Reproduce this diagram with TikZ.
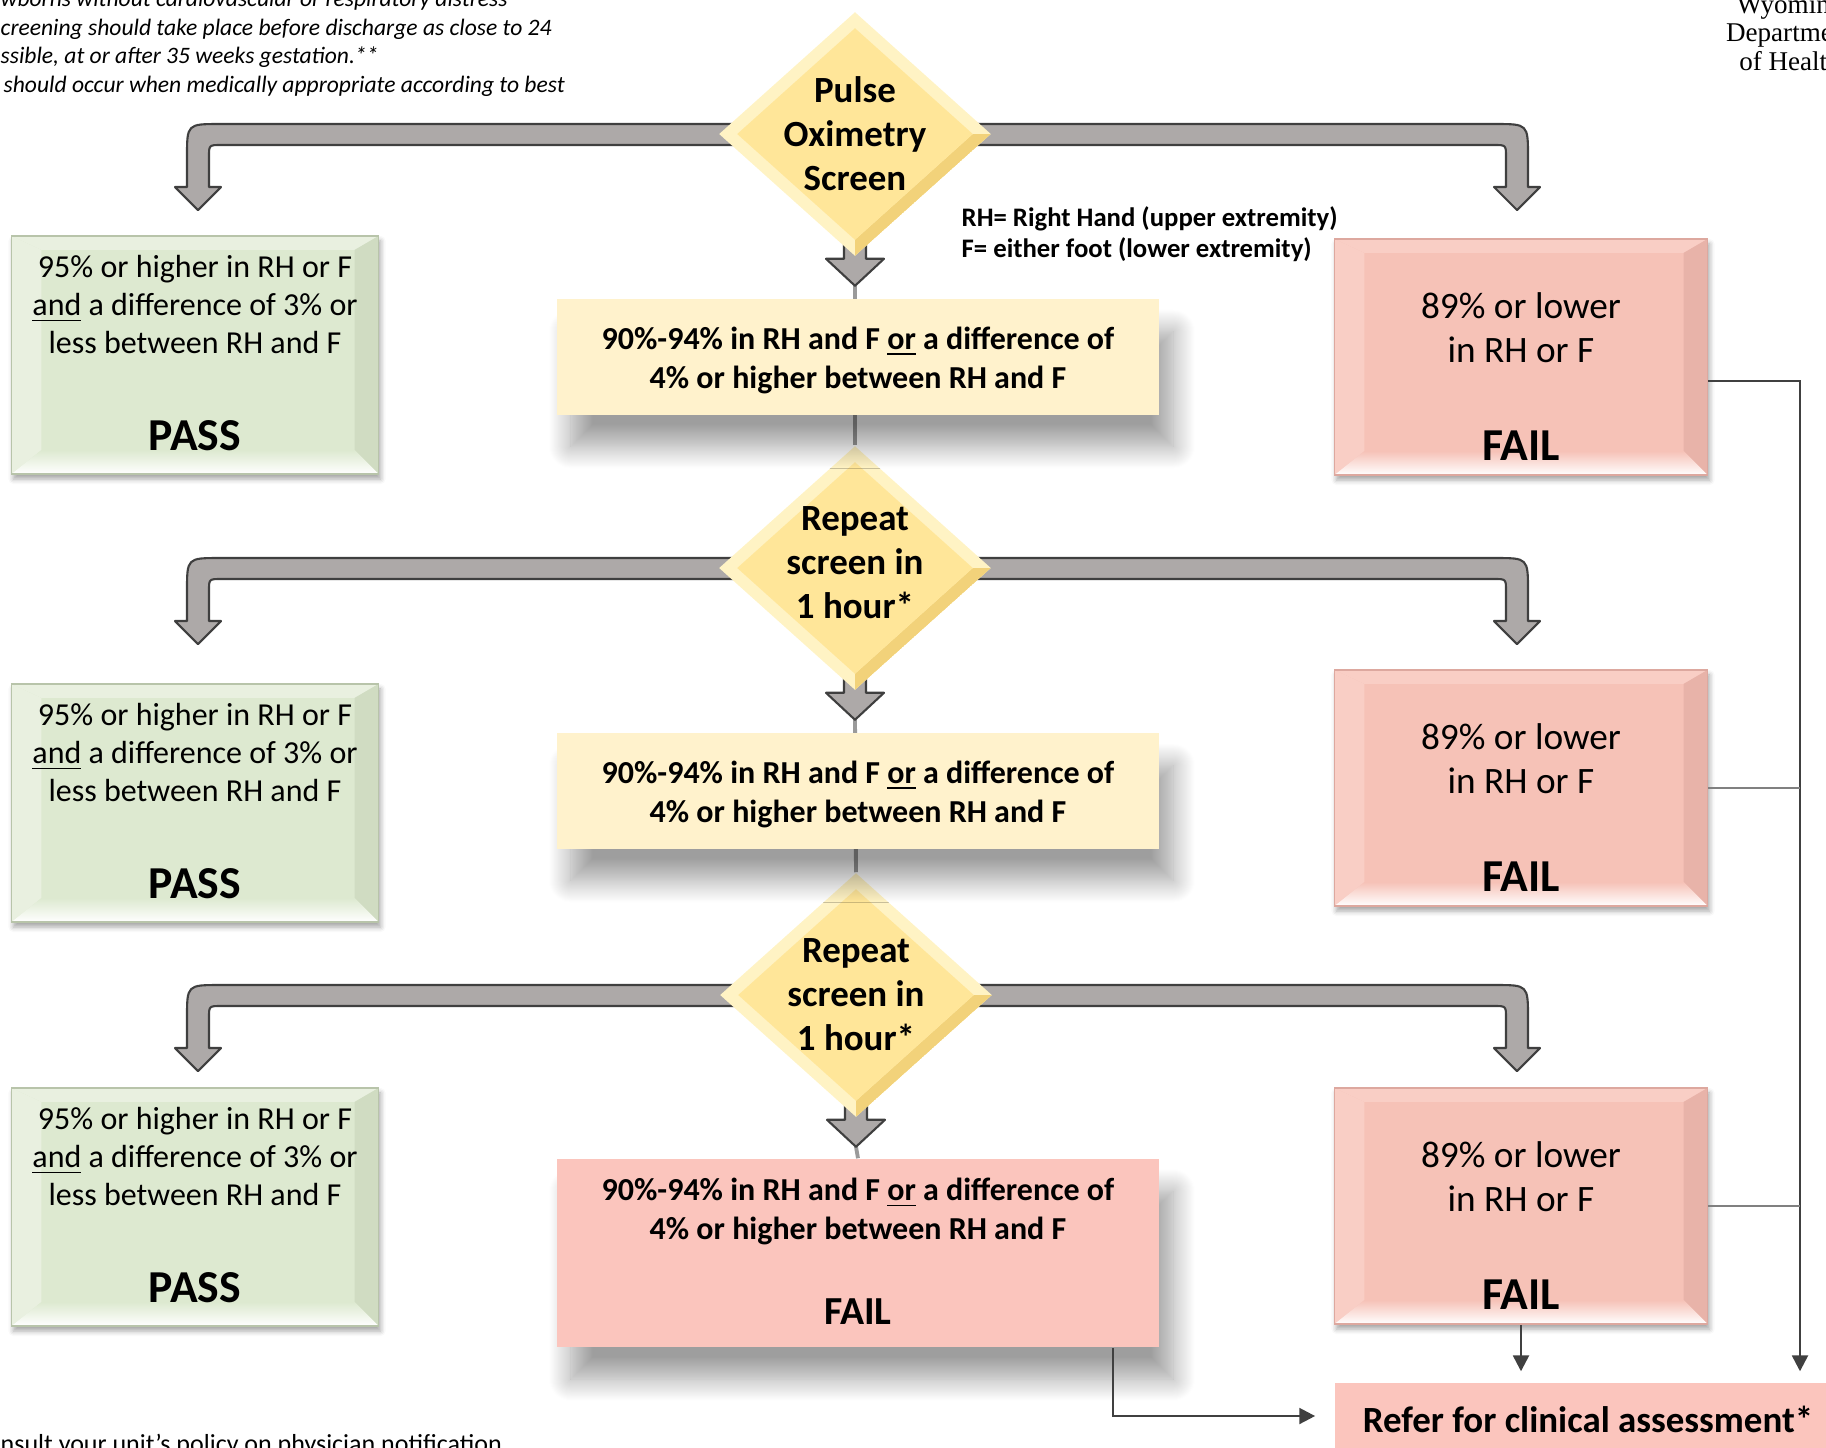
\documentclass[tikz,border=0pt]{standalone}
\usepackage{fontspec}
\setmainfont{Carlito}
\newfontfamily\logofont{Liberation Serif}
\usepackage{tikz}
\usetikzlibrary{calc,arrows.meta,positioning,shapes.geometric,shadows.blur,backgrounds}
\definecolor{PassFill}{HTML}{DDE9D0}
\definecolor{PassLight}{HTML}{E9F0E0}
\definecolor{PassDark}{HTML}{D0DCC2}
\definecolor{PassEdge}{HTML}{B8C4AA}
\definecolor{FailFill}{HTML}{F6C2B7}
\definecolor{FailLight}{HTML}{F9CEC5}
\definecolor{FailDark}{HTML}{E8B3A9}
\definecolor{FailEdge}{HTML}{DDA89F}
\definecolor{CondFill}{HTML}{FFF2CC}
\definecolor{BadFill}{HTML}{FBC5BD}
\definecolor{DiaFace}{HTML}{FFE699}
\definecolor{DiaLight}{HTML}{FFF3C4}
\definecolor{DiaDark}{HTML}{F2D27A}
\definecolor{ArrowGrey}{HTML}{ADA9A8}
\definecolor{ArrowEdge}{HTML}{3F3F3F}
\definecolor{LinkGrey}{HTML}{9A9A9A}
\definecolor{LineDark}{HTML}{404040}
\newcommand*\pbx{path picture bounding box}

\tikzset{
  bevelbox/.style n args={3}{rectangle, fill=#1, inner sep=0pt, line width=0.4pt,
    blur shadow={shadow xshift=0.02cm, shadow yshift=-0.05cm,
      shadow blur radius=0.05cm, shadow opacity=35},
    path picture={
      \fill[#2] (\pbx.north west) -- (\pbx.north east) -- ++(-24,14)
        -- ($(\pbx.north west)+(30,14)$) -- cycle;
      \fill[#2] (\pbx.north west) -- ($(\pbx.north west)+(30,14)$)
        -- ($(\pbx.south west)+(30,-24)$) -- (\pbx.south west) -- cycle;
      \fill[#3] (\pbx.north east) -- ($(\pbx.north east)+(-24,14)$)
        -- ($(\pbx.south east)+(-24,-24)$) -- (\pbx.south east) -- cycle;
      \shade[top color=#1, bottom color=white] (\pbx.south west)
        -- ($(\pbx.south west)+(30,-24)$) -- ($(\pbx.south east)+(-24,-24)$)
        -- (\pbx.south east) -- cycle;
    }},
  passbox/.style={bevelbox={PassFill}{PassLight}{PassDark}, draw=PassEdge,
    minimum width=3.67cm, minimum height=2.38cm},
  failbox/.style={bevelbox={FailFill}{FailLight}{FailDark}, draw=FailEdge,
    minimum width=3.73cm, minimum height=2.36cm},
  decision/.style={diamond, fill=DiaLight, inner sep=0pt,
    minimum width=2.72cm, minimum height=2.44cm,
    path picture={
      \fill[DiaDark] (\pbx.east) -- (\pbx.south) -- ++(0,-16)
        -- ($(\pbx.east)+(-18,0)$) -- cycle;
      \fill[DiaFace] ($(\pbx.north)+(0,16)$) -- ($(\pbx.east)+(-18,0)$)
        -- ($(\pbx.south)+(0,-16)$) -- ($(\pbx.west)+(18,0)$) -- cycle;
    }},
  dlabel/.style={font=\fontsize{10.5}{12.5}\selectfont\bfseries, align=center, inner sep=0pt},
  cond/.style={rectangle, fill=CondFill, minimum width=6.02cm, minimum height=1.15cm,
    inner sep=0pt, align=center, font=\fontsize{9.1}{11.1}\selectfont\bfseries,
    blur shadow={shadow xshift=0.14cm, shadow yshift=-0.32cm,
      shadow blur radius=0.22cm, shadow blur steps=24, shadow opacity=38}},
  bad/.style={cond, fill=BadFill, minimum height=1.88cm},
  condtext/.style={align=center, inner sep=0pt, font=\fontsize{9.1}{11.1}\selectfont\bfseries},
  boxtext/.style={align=center, inner sep=0pt, font=\fontsize{9.1}{10.8}\selectfont},
  lowtext/.style={boxtext, font=\fontsize{10.6}{12.5}\selectfont},
  verdict/.style={inner sep=0pt, font=\fontsize{13}{15}\selectfont\bfseries},
  refer/.style={rectangle, fill=BadFill, minimum width=5.06cm, minimum height=0.72cm,
    inner sep=0pt, font=\fontsize{10.5}{12.5}\selectfont\bfseries},
  fatarrow/.style={fill=ArrowGrey, draw=ArrowEdge, line width=0.6pt, line join=round},
  link/.style={draw=LinkGrey, line width=1.1pt},
  feed/.style={draw=LineDark, line width=0.7pt, -{Triangle[length=4.5pt,width=4.5pt]}},
  feedthin/.style={draw=gray, line width=0.5pt},
  legend/.style={inner sep=0pt, anchor=base west, font=\fontsize{7.6}{9}\selectfont\bfseries},
  note/.style={inner sep=0pt, anchor=base west, font=\fontsize{6.7}{8}\selectfont\itshape}
}

\begin{document}
\begin{tikzpicture}[x=0.01cm, y=-0.01cm]
  \path[use as bounding box, clip] (0,0) rectangle (1826,1447);

  % screens
  \node[decision] (d1) at (855,134) {};
  \node[dlabel] (d1t) at (d1) {Pulse\\Oximetry\\Screen};
  \node[decision] (d2) at (855,568) {};
  \node[dlabel] (d2t) at ($(d2)+(0,-5)$) {Repeat\\screen in\\1 hour*};
  \node[decision] (d3) at (856,995) {};
  \node[dlabel] (d3t) at (d3) {Repeat\\screen in\\1 hour*};

  % middle column
  \node[cond] (c1) at (858,357) {};
  \node[condtext] (c1t) at ($(c1)+(0,3)$) {90\%-94\% in RH and F \underline{or} a difference of\\4\% or higher between RH and F};
  \node[cond] (c2) at (858,791) {};
  \node[condtext] (c2t) at ($(c2)+(0,3)$) {90\%-94\% in RH and F \underline{or} a difference of\\4\% or higher between RH and F};
  \node[bad] (bad3) at (858,1253) {};
  \node[condtext] (bad3t) at ($(bad3.north)+(0,53)$) {90\%-94\% in RH and F \underline{or} a difference of\\4\% or higher between RH and F};
  \node[verdict, font=\fontsize{11.3}{13}\selectfont\bfseries] (bad3v) at ($(bad3.north)+(0,153)$) {FAIL};

  % pass and fail boxes
  \foreach \i/\gy/\ry in {1/355/357, 2/803/788, 3/1207/1206} {
    \node[passbox] (pass\i) at (195,\gy) {};
    \node[boxtext] (passt\i) at ($(pass\i.north)+(0,69)$) {95\% or higher in RH or F\\\underline{and} a difference of 3\% or\\less between RH and F};
    \node[verdict] (passv\i) at ($(pass\i.north)+(0,200)$) {PASS};
    \node[failbox] (fail\i) at (1521,\ry) {};
    \node[lowtext] (failt\i) at ($(fail\i.north)+(0,89)$) {89\% or lower\\in RH or F};
    \node[verdict] (failv\i) at ($(fail\i.north)+(0,207)$) {FAIL};
  }

  \node[refer] (refer) at (1588,1419) {Refer for clinical assessment*};

  % key and notes
  \node[legend] (rh) at (961,226) {RH= Right Hand (upper extremity)};
  \node[legend] (ft) at (961,257) {F= either foot (lower extremity)};
  \node[note] (n1) at (0,6) {wborns without cardiovascular or respiratory distress};
  \node[note] (n2) at (0,35) {creening should take place before discharge as close to 24};
  \node[note] (n3) at (0,63) {ssible, at or after 35 weeks gestation.**};
  \node[note] (n4) at (3,92) {should occur when medically appropriate according to best};
  \node[note, font=\fontsize{7.4}{9}\selectfont] (n5) at (0,1452) {nsult your unit's policy on physician notification};
  \node[font=\logofont\fontsize{7.7}{8.1}\selectfont, align=center, inner sep=0pt] (logo) at (1790,33) {Wyoming\\Department\\of Health};

  % referral lines
  \coordinate (rail) at ($(refer.north)+(212,-11)$);
  \draw[feed] ($(fail1.east)+(0,24)$) -| (rail);
  \draw[feedthin] (fail2.east) -- (fail2.east -| rail);
  \draw[feedthin] (fail3.east) -- (fail3.east -| rail);
  \draw[feed] (fail3.south) -- (fail3.south |- rail);
  \draw[feed] ($(bad3.south)+(255,0)$) |- ($(refer.west)+(-19,-3)$);

  \begin{scope}[on background layer]
    \draw[link] ($(d1.south)+(0,29)$) -- (d2.north);
    \draw[link] ($(d2.south)+(0,29)$) -- (d3.north);
    \draw[link] ($(d3.south)+(0,29)$) -- (bad3.north);
    \foreach \i in {1,2,3} {
      \coordinate (lk\i) at ($(pass\i.north |- d\i.center)+(3,0)$);
      \coordinate (rk\i) at ($(fail\i.north |- d\i.center)+(-4,0)$);
      \path[fatarrow] ($(d\i.center)+(0,-10)$) -- ($(lk\i)+(22,-10)$)
        .. controls ($(lk\i)+(-11,-10)$) .. ($(lk\i)+(-11,23)$) -- ($(lk\i)+(-11,53)$)
        -- ++(-12,0) -- ($(lk\i)+(0,76)$) -- ($(lk\i)+(23,53)$) -- ++(-12,0)
        -- ($(lk\i)+(11,23)$) .. controls ($(lk\i)+(11,11)$) .. ($(lk\i)+(23,11)$)
        -- ($(d\i.center)+(0,11)$) -- cycle;
      \path[fatarrow] ($(d\i.center)+(0,-10)$) -- ($(rk\i)+(-22,-10)$)
        .. controls ($(rk\i)+(11,-10)$) .. ($(rk\i)+(11,23)$) -- ($(rk\i)+(11,53)$)
        -- ++(12,0) -- ($(rk\i)+(0,76)$) -- ($(rk\i)+(-23,53)$) -- ++(12,0)
        -- ($(rk\i)+(-11,23)$) .. controls ($(rk\i)+(-11,11)$) .. ($(rk\i)+(-23,11)$)
        -- ($(d\i.center)+(0,11)$) -- cycle;
      \path[fatarrow] ($(d\i.south)+(-11,-30)$) -- ++(0,32) -- ++(-18,0)
        -- ++(29,27) -- ++(29,-27) -- ++(-18,0) -- ++(0,-32) -- cycle;
    }
  \end{scope}
\end{tikzpicture}
\end{document}
